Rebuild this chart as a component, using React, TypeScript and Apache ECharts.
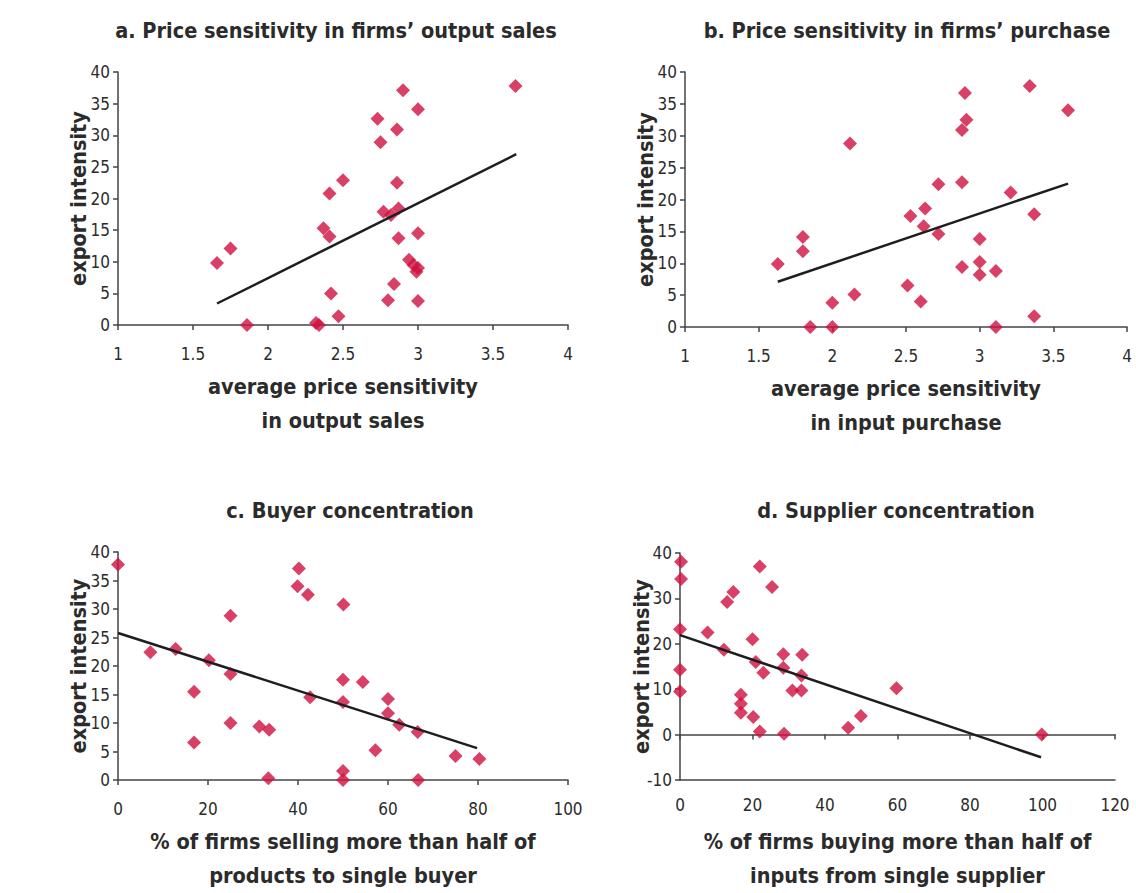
import React, { useEffect, useRef } from "react";
import * as echarts from "echarts";

// ---------- data ----------
const titleA = "a. Price sensitivity in firms’ output sales";
const titleB = "b. Price sensitivity in firms’ purchase";
const titleC = "c. Buyer concentration";
const titleD = "d. Supplier concentration";

const yName = "export intensity";
const xNameA = "average price sensitivity\nin output sales";
const xNameB = "average price sensitivity\nin input purchase";
const xNameC = "% of firms selling more than half of\nproducts to single buyer";
const xNameD = "% of firms buying more than half of\ninputs from single supplier";

const pointsA: number[][] = [
  [1.66, 9.8], [1.75, 12.1], [1.86, 0], [2.32, 0.3], [2.34, 0], [2.47, 1.4], [2.42, 5.0],
  [2.37, 15.3], [2.41, 14.0], [2.41, 20.8], [2.5, 22.9], [2.73, 32.6], [2.75, 28.9],
  [2.86, 30.9], [2.9, 37.1], [3.0, 34.1], [3.65, 37.8], [2.86, 22.5], [2.77, 17.9],
  [2.82, 17.4], [2.87, 18.4], [2.87, 13.7], [3.0, 14.5], [2.94, 10.3], [2.97, 9.5],
  [3.0, 9.0], [2.99, 8.4], [2.84, 6.5], [2.8, 3.9], [3.0, 3.8],
];
const trendA: number[][] = [[1.66, 3.4], [3.655, 27.0]];

const pointsB: number[][] = [
  [2.12, 28.8], [1.8, 14.1], [1.8, 11.9], [1.63, 9.9], [2.15, 5.1], [2.0, 3.8], [1.85, 0],
  [2.0, 0], [2.51, 6.5], [2.53, 17.4], [3.34, 37.8], [2.9, 36.7], [2.91, 32.5], [2.88, 30.9],
  [3.6, 34.0], [2.72, 22.4], [2.88, 22.7], [3.21, 21.1], [2.63, 18.6], [2.62, 15.8],
  [2.72, 14.6], [3.37, 17.7], [3.0, 13.8], [2.88, 9.4], [3.0, 10.2], [3.0, 8.2], [3.11, 8.8],
  [2.6, 4.0], [3.37, 1.7], [3.11, 0],
];
const trendB: number[][] = [[1.63, 7.1], [3.6, 22.5]];

const pointsC: number[][] = [
  [0, 37.8], [40.2, 37.1], [39.9, 34.0], [42.2, 32.5], [50.1, 30.8], [25, 28.8], [7.2, 22.4],
  [12.8, 23.0], [20.2, 21.0], [25, 18.6], [16.9, 15.5], [50, 17.6], [54.4, 17.2], [42.7, 14.5],
  [50, 13.7], [25, 10.0], [31.4, 9.4], [33.6, 8.8], [16.9, 6.6], [33.4, 0.3], [50, 1.6], [50, 0],
  [60, 14.2], [60, 11.7], [62.5, 9.7], [66.6, 8.4], [57.2, 5.2], [75, 4.2], [80.3, 3.7], [66.7, 0],
];
const trendC: number[][] = [[0, 25.8], [79.8, 5.6]];

const pointsD: number[][] = [
  [0.3, 38.1], [0.3, 34.3], [0, 23.2], [0, 14.3], [0, 9.5], [22, 37.0], [25.4, 32.5],
  [14.7, 31.4], [13, 29.2], [7.6, 22.5], [12.1, 18.7], [20, 21], [20.9, 16], [23, 13.6],
  [28.5, 17.7], [28.5, 14.7], [33.7, 17.6], [33.5, 13], [31, 9.7], [33.5, 9.7], [16.8, 8.8],
  [16.8, 6.8], [16.8, 4.8], [20.2, 3.9], [22, 0.7], [28.7, 0.2], [46.4, 1.5], [49.9, 4.1],
  [59.7, 10.2], [99.8, 0],
];
const trendD: number[][] = [[0, 21.9], [99.6, -5.0]];

const xRangeA = [1, 4, 0.5];
const xRangeB = [1, 4, 0.5];
const xRangeC = [0, 100, 20];
const xRangeD = [0, 120, 20];
const yRangeABC = [0, 40, 5];
const yRangeD = [-10, 40, 10];

// ---------- styling ----------
const FONT = "'Liberation Sans Narrow', 'Arial Narrow', 'DejaVu Sans Condensed', sans-serif";
const RED = "#d0103f";
const AXIS = "#444";
const TXT = "#2b2b2b";

const panels = [
  { title: titleA, pts: pointsA, trend: trendA, xName: xNameA, xr: xRangeA, yr: yRangeABC,
    grid: { left: 118, top: 72, width: 450, height: 253 }, tx: 331, ty: 14, yGap: 29 },
  { title: titleB, pts: pointsB, trend: trendB, xName: xNameB, xr: xRangeB, yr: yRangeABC,
    grid: { left: 685, top: 72, width: 442, height: 255 }, tx: 902, ty: 14, yGap: 29 },
  { title: titleC, pts: pointsC, trend: trendC, xName: xNameC, xr: xRangeC, yr: yRangeABC,
    grid: { left: 118, top: 552, width: 450, height: 228 }, tx: 345, ty: 494, yGap: 29 },
  { title: titleD, pts: pointsD, trend: trendD, xName: xNameD, xr: xRangeD, yr: yRangeD,
    grid: { left: 680, top: 553, width: 435, height: 227 }, tx: 891, ty: 494, yGap: 28 },
];

function buildOption() {
  const axisLine = { show: true, onZero: false, lineStyle: { color: AXIS, width: 1.5 } };
  const axisTick = { show: true, inside: false, length: 5, lineStyle: { color: AXIS, width: 1.5 } };
  const labelStyle = { color: TXT, fontFamily: FONT, fontSize: 17 };
  const nameStyle = { color: TXT, fontFamily: FONT, fontSize: 21.5, fontWeight: "bold" as const, lineHeight: 34 };

  const grid: any[] = [];
  const xAxis: any[] = [];
  const yAxis: any[] = [];
  const series: any[] = [];
  const title: any[] = [];

  panels.forEach((p, i) => {
    grid.push({ ...p.grid, containLabel: false });
    title.push({
      text: p.title, left: p.tx, top: p.ty, textAlign: "center",
      textStyle: { fontFamily: FONT, fontSize: 21.5, fontWeight: "bold", color: TXT },
    });
    const isD = i === 3;
    xAxis.push({
      type: "value", gridIndex: i, min: p.xr[0], max: p.xr[1], interval: p.xr[2],
      position: "bottom",
      axisLine: axisLine,
      axisTick: isD ? { show: false } : axisTick,
      axisLabel: { ...labelStyle, margin: isD ? 16 : 20 },
      splitLine: { show: false },
      name: p.xName, nameLocation: "middle", nameGap: 44, nameMoveOverlap: false,
      nameTextStyle: nameStyle,
    });
    yAxis.push({
      type: "value", gridIndex: i, min: p.yr[0], max: p.yr[1], interval: p.yr[2],
      axisLine: axisLine, axisTick: axisTick,
      axisLabel: { ...labelStyle, margin: 8 },
      splitLine: { show: false },
      name: yName, nameLocation: "middle", nameGap: p.yGap, nameMoveOverlap: false,
      nameTextStyle: { ...nameStyle, lineHeight: 22 },
    });
    series.push({
      type: "scatter", xAxisIndex: i, yAxisIndex: i, data: p.pts,
      symbol: "diamond", symbolSize: 14, itemStyle: { color: RED }, z: 2,
    });
    series.push({
      type: "line", xAxisIndex: i, yAxisIndex: i, data: p.trend, symbol: "none",
      lineStyle: { color: "#1e1e1e", width: 2.5 }, z: 3, silent: true,
    });
  });

  // zero line with ticks for panel d
  xAxis.push({
    type: "value", gridIndex: 3, min: xRangeD[0], max: xRangeD[1], interval: xRangeD[2],
    position: "bottom",
    axisLine: { show: true, onZero: true, lineStyle: { color: AXIS, width: 1.5 } },
    axisTick: { show: true, length: 5, lineStyle: { color: AXIS, width: 1.5 } },
    axisLabel: { show: false }, splitLine: { show: false },
  });

  return { animation: false, backgroundColor: "#fff", title, grid, xAxis, yAxis, series };
}

export default function App() {
  const ref = useRef<HTMLDivElement>(null);
  useEffect(() => {
    document.body.style.margin = "0";
    if (!ref.current) return;
    const chart = echarts.init(ref.current, undefined, { renderer: "svg" });
    chart.setOption(buildOption());
    return () => chart.dispose();
  }, []);
  return <div ref={ref} style={{ width: 1136, height: 893, position: "absolute", left: 0, top: 0 }} />;
}
